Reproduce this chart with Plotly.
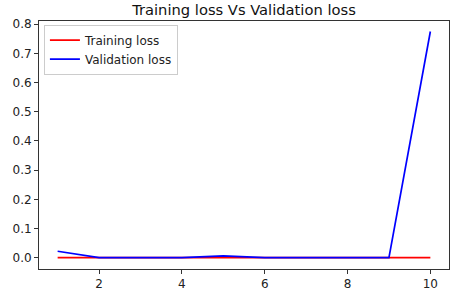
import plotly.graph_objects as go

epochs = [1, 2, 3, 4, 5, 6, 7, 8, 9, 10]
training_loss = [0.0, 0.0, 0.0, 0.0, 0.0, 0.0, 0.0, 0.0, 0.0, 0.0]
validation_loss = [0.022, 0.0005, 0.0005, 0.0005, 0.006, 0.0005, 0.0005, 0.0005, 0.0005, 0.775]
y_ticks = [0.0, 0.1, 0.2, 0.3, 0.4, 0.5, 0.6, 0.7, 0.8]
x_ticks = [2, 4, 6, 8, 10]

fig = go.Figure()
fig.add_trace(go.Scatter(x=epochs, y=training_loss, mode="lines", name="Training loss",
                         line=dict(color="red", width=1.7)))
fig.add_trace(go.Scatter(x=epochs, y=validation_loss, mode="lines", name="Validation loss",
                         line=dict(color="blue", width=1.7)))

axis_common = dict(showgrid=False, zeroline=False, showline=True, linecolor="#333333", linewidth=1,
                   mirror=True, ticks="outside", ticklen=4, tickcolor="#333333", automargin=False,
                   tickfont=dict(family="DejaVu Sans", size=12, color="#222222"))
fig.update_layout(
    width=453, height=292,
    margin=dict(l=39, r=4, t=21, b=23),
    paper_bgcolor="white", plot_bgcolor="white",
    title=dict(text="Training loss Vs Validation loss", xref="paper", x=0.5, xanchor="center",
               y=0.985, yanchor="top",
               font=dict(family="DejaVu Sans", size=14.7, color="#111111")),
    xaxis=dict(range=[0.55, 10.45], tickvals=x_ticks, **axis_common),
    yaxis=dict(range=[-0.0387, 0.811], tickvals=y_ticks, tickformat=".1f", **axis_common),
    legend=dict(x=0.012, y=0.985, xanchor="left", yanchor="top", bgcolor="rgba(255,255,255,0.8)",
                bordercolor="#cccccc", borderwidth=1,
                font=dict(family="DejaVu Sans", size=12, color="#222222"), tracegroupgap=0),
    showlegend=True,
)
fig.write_html("out.html", config={"displayModeBar": False},
               post_script="document.body.style.margin='0';document.body.style.padding='0';")
